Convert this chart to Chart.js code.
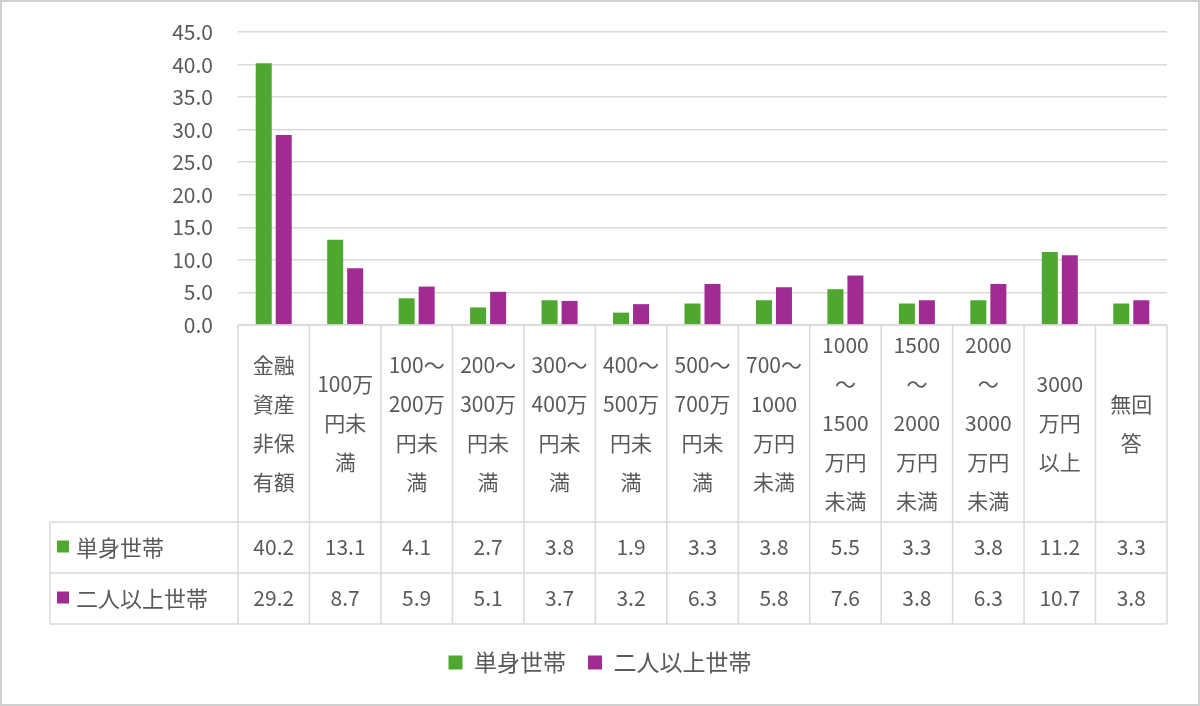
<!DOCTYPE html>
<html>
<head>
<meta charset="utf-8">
<script src="https://cdn.jsdelivr.net/npm/chart.js@4"></script>
<style>
body { margin: 0; background: #fff; }
</style>
</head>
<body>
<canvas id="chart" width="1200" height="706"></canvas>
<script>
// categories (full name) and how they wrap in the table header
const categories = ['金融資産非保有額', '100万円未満', '100～200万円未満', '200～300万円未満', '300～400万円未満',
  '400～500万円未満', '500～700万円未満', '700～1000万円未満', '1000～1500万円未満', '1500～2000万円未満',
  '2000～3000万円未満', '3000万円以上', '無回答'];
const categoryLines = [
  ['金融', '資産', '非保', '有額'],
  ['100万', '円未', '満'],
  ['100～', '200万', '円未', '満'],
  ['200～', '300万', '円未', '満'],
  ['300～', '400万', '円未', '満'],
  ['400～', '500万', '円未', '満'],
  ['500～', '700万', '円未', '満'],
  ['700～', '1000', '万円', '未満'],
  ['1000', '～', '1500', '万円', '未満'],
  ['1500', '～', '2000', '万円', '未満'],
  ['2000', '～', '3000', '万円', '未満'],
  ['3000', '万円', '以上'],
  ['無回', '答']
];
const seriesNames = ['単身世帯', '二人以上世帯'];
const singleHouseholds = [40.2, 13.1, 4.1, 2.7, 3.8, 1.9, 3.3, 3.8, 5.5, 3.3, 3.8, 11.2, 3.3];
const multiHouseholds = [29.2, 8.7, 5.9, 5.1, 3.7, 3.2, 6.3, 5.8, 7.6, 3.8, 6.3, 10.7, 3.8];
const yMin = 0;
const yMax = 45;
const yStep = 5;

const colors = ['#4ea72e', '#a02b93'];
const textColor = '#595959';
const lineColor = '#d9d9d9';
const fontFamily = "'Noto Sans CJK JP', 'Noto Sans', sans-serif";

Chart.defaults.font.family = fontFamily;
Chart.defaults.color = textColor;

// draws the data table under the plot plus the outer frame
const dataTable = {
  id: 'dataTable',
  afterDraw(chart) {
    const ctx = chart.ctx;
    const area = chart.chartArea;
    const xs = chart.scales.x;
    const n = categories.length;
    const colW = (area.right - area.left) / n;
    const top = area.bottom;
    const headBottom = top + 197;
    const rowH = 51;
    const tableLeft = 50;

    function line(x1, y1, x2, y2) {
      ctx.beginPath();
      ctx.moveTo(x1, y1);
      ctx.lineTo(x2, y2);
      ctx.stroke();
    }

    ctx.save();
    ctx.strokeStyle = lineColor;
    ctx.lineWidth = 1.5;
    line(area.left, top, area.right, top);
    for (let r = 0; r <= 2; r++) {
      line(tableLeft, headBottom + r * rowH, area.right, headBottom + r * rowH);
    }
    for (let i = 0; i <= n; i++) {
      const xx = area.left + i * colW;
      line(xx, top, xx, headBottom + 2 * rowH);
    }
    line(tableLeft, headBottom, tableLeft, headBottom + 2 * rowH);

    // header labels
    ctx.fillStyle = textColor;
    ctx.textAlign = 'center';
    ctx.textBaseline = 'middle';
    ctx.font = '21px ' + fontFamily;
    const midY = (top + headBottom) / 2;
    categoryLines.forEach((lines, i) => {
      const cx = xs.getPixelForValue(i);
      lines.forEach((t, k) => {
        ctx.fillText(t, cx, midY + (k - (lines.length - 1) / 2) * 39);
      });
    });

    // value rows
    [singleHouseholds, multiHouseholds].forEach((vals, r) => {
      const cy = headBottom + r * rowH + rowH / 2;
      ctx.fillStyle = colors[r];
      ctx.fillRect(57, cy - 7, 12, 12);
      ctx.fillStyle = textColor;
      ctx.textAlign = 'left';
      ctx.font = '22px ' + fontFamily;
      ctx.fillText(seriesNames[r], 76, cy);
      ctx.textAlign = 'center';
      ctx.font = '21px ' + fontFamily;
      vals.forEach((v, i) => {
        ctx.fillText(v.toFixed(1), xs.getPixelForValue(i), cy);
      });
    });

    ctx.strokeStyle = '#d0d0d0';
    ctx.lineWidth = 2;
    ctx.strokeRect(1, 1, chart.width - 2, chart.height - 2);
    ctx.restore();
  }
};

new Chart(document.getElementById('chart'), {
  type: 'bar',
  data: {
    labels: categories,
    datasets: [
      {
        label: seriesNames[0],
        data: singleHouseholds,
        backgroundColor: colors[0],
        borderWidth: 0,
        categoryPercentage: 0.56,
        barPercentage: 0.8
      },
      {
        label: seriesNames[1],
        data: multiHouseholds,
        backgroundColor: colors[1],
        borderWidth: 0,
        categoryPercentage: 0.56,
        barPercentage: 0.8
      }
    ]
  },
  options: {
    responsive: false,
    animation: false,
    layout: { padding: { top: 32, left: 33, right: 33, bottom: 22 } },
    scales: {
      x: {
        grid: { display: false },
        border: { display: false },
        ticks: { display: false },
        afterFit(s) { s.height = 304; }
      },
      y: {
        min: yMin,
        max: yMax,
        ticks: {
          stepSize: yStep,
          padding: 25,
          color: textColor,
          font: { size: 21 },
          callback: v => v.toFixed(1)
        },
        grid: { color: lineColor, lineWidth: 1.5, drawTicks: false },
        border: { display: false },
        afterFit(s) {
          s.width = 205;
          s.paddingTop = 0;
          s.paddingBottom = 0;
        }
      }
    },
    plugins: {
      legend: {
        position: 'bottom',
        labels: {
          boxWidth: 14,
          boxHeight: 14,
          padding: 22,
          color: textColor,
          font: { size: 23 }
        }
      },
      tooltip: { enabled: false }
    }
  },
  plugins: [dataTable]
});
</script>
</body>
</html>
